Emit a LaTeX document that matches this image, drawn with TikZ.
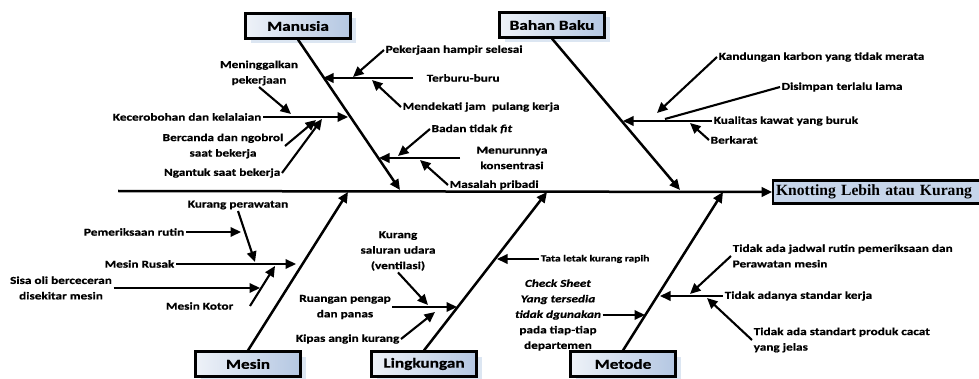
\documentclass[tikz,border=0pt]{standalone}
\usepackage{fontspec}
\setmainfont{Carlito}[FakeStretch=1.25, FakeBold=0.8]
\newfontfamily\knotfont{Liberation Serif}
\usepackage{tikz}
\usetikzlibrary{positioning,arrows.meta,shadows}
\definecolor{boxlight}{HTML}{EEF2F8}
\definecolor{boxdark}{HTML}{B4C7E2}
\definecolor{knotfill}{HTML}{C6D5EA}
\definecolor{shadowblue}{HTML}{DCE6F2}

\begin{document}
\begin{tikzpicture}[
x=1pt, y=-1pt,
>={Triangle[length=10.5pt,width=9.5pt]},
catbox/.style={rectangle, draw=black, line width=2.2pt, left color=boxlight, right color=boxdark,
    minimum width=105pt, minimum height=25pt, font=\fontsize{13.8}{16}\selectfont\bfseries,
    general shadow={fill=shadowblue, shadow xshift=5pt, shadow yshift=-5pt}},
knotbox/.style={rectangle, draw=black, line width=2.2pt, fill=knotfill, minimum height=23pt,
    text width=212pt, align=left, inner xsep=3pt, font=\knotfont\fontsize{15.6}{20}\selectfont\bfseries},
cause/.style={font=\fontsize{10.6}{15.5}\selectfont\bfseries, align=center, inner sep=1.5pt},
bone/.style={->, line width=2.5pt},
twig/.style={->, line width=2.1pt}
]
    \useasboundingbox (0,0) rectangle (979,379);

    %Nodes
    \node[knotbox, anchor=west] (knot) at (772,192) {Knotting Lebih atau Kurang};
    \node[catbox] (man) at (298,26) {Manusia};
    \node[catbox] (bhn) at (552,25) {Bahan Baku};
    \node[catbox] (msn) at (248,364) {Mesin};
    \node[catbox] (lkg) at (424,364) {Lingkungan};
    \node[catbox] (mtd) at (623,364) {Metode};

    \coordinate (tail) at (118,191);
    \coordinate (man0) at (400,190);
    \coordinate (bhn0) at (680,190);
    \coordinate (msn0) at (348,192);
    \coordinate (lkg0) at (547,192);
    \coordinate (mtd0) at (723,192);

    %Lines
    \draw[bone] (tail) -- (knot.west);
    \draw[bone] (man.south) -- (man0);
    \draw[bone] (bhn.south) -- (bhn0);
    \draw[bone] (msn.north) -- (msn0);
    \draw[bone] (lkg.north) -- (lkg0);
    \draw[bone] (mtd.north) -- (mtd0);

    % Manusia
    \node[cause, anchor=west] (trb) at (425,78) {Terburu-buru};
    \node[cause, anchor=west] (phs) at (384,50) {Pekerjaan hampir selesai};
    \node[cause, anchor=west] (mjp) at (401,107) {Mendekati jam \ pulang kerja};
    \node[cause, anchor=east] (kcr) at (263,117) {Kecerobohan dan kelalaian};
    \node[cause, anchor=south] (mgk) at (259,87) {Meninggalkan\\pekerjaan};
    \node[cause] (bcd) at (223,146) {Bercanda dan ngobrol\\saat bekerja};
    \node[cause, anchor=east] (ngt) at (282,173) {Ngantuk saat bekerja};
    \node[cause] (mnr) at (512,158) {Menurunnya\\konsentrasi};
    \node[cause, anchor=west] (bdn) at (430,129) {Badan tidak \textit{fit}};
    \node[cause, anchor=west] (msl) at (448,185) {Masalah pribadi};

    \coordinate (trb0) at (413,78);
    \coordinate (man1) at (323,78);
    \coordinate (man2) at (348,117);
    \coordinate (mnr0) at (460,158);
    \coordinate (man3) at (379,158);

    \draw[twig] (trb0) -- (man1);
    \draw[twig] (phs.west) -- (353,77);
    \draw[twig] (mjp.west) -- (372,80);
    \draw[twig] (kcr.east) -- (man2);
    \draw[twig] (mgk.south) -- (291,114);
    \draw[twig] (bcd.east) -- (316,120);
    \draw[twig] (ngt.east) -- (322,119);
    \draw[twig] (mnr0) -- (man3);
    \draw[twig] (bdn.west) -- (398,156);
    \draw[twig] (msl.west) -- (420,160);

    % Bahan Baku
    \node[cause, anchor=west] (kkb) at (712,121) {Kualitas kawat yang buruk};
    \node[cause, anchor=west] (kdg) at (717,57) {Kandungan karbon yang tidak merata};
    \node[cause, anchor=west] (dsp) at (780,87) {Disimpan terlalu lama};
    \node[cause, anchor=west] (bkr) at (709,140) {Berkarat};

    \coordinate (bhn1) at (623,121);
    \draw[twig] (kkb.west) -- (bhn1);
    \draw[twig] (kdg.west) -- (657,113);
    \draw[line width=2.1pt] (dsp.west) -- (665,119);
    \draw[twig] (bkr.west) -- (690,123);

    % Mesin
    \node[cause, anchor=east] (mrs) at (176,264) {Mesin Rusak};
    \node[cause] (kpr) at (238,205) {Kurang perawatan};
    \node[cause, anchor=east] (pmr) at (186,232) {Pemeriksaan rutin};
    \node[cause] (sso) at (61,288) {Sisa oli berceceran\\disekitar mesin};
    \node[cause, anchor=east] (mkt) at (235,306) {Mesin Kotor};

    \coordinate (msn1) at (296,264);
    \coordinate (mkt0) at (250,306);
    \draw[twig] (mrs.east) -- (msn1);
    \draw[twig] (kpr.south) -- (255,262);
    \draw[twig] (pmr.east) -- (241,232);
    \draw[twig] (sso.east) -- (260,288);
    \draw[twig] (mkt0) -- (275,266);

    % Lingkungan
    \node[cause] (rpp) at (345,307) {Ruangan pengap\\dan panas};
    \node[cause] (ksu) at (398,251) {Kurang\\saluran udara\\(ventilasi)};
    \node[cause, anchor=east] (kak) at (401,339) {Kipas angin kurang};
    \node[cause, anchor=west, font=\fontsize{9.2}{12}\selectfont\bfseries] (tlk) at (539,259) {Tata letak kurang rapih};

    \coordinate (lkg1) at (457,307);
    \draw[twig] (rpp.east) -- (lkg1);
    \draw[twig] (ksu.south) -- (428,305);
    \draw[twig] (kak.east) -- (435,312);
    \draw[twig] (tlk.west) -- (497,259);

    % Metode
    \node[cause, anchor=west] (tas) at (723,296) {Tidak adanya standar kerja};
    \node[cause, anchor=west, align=left] (tjr) at (731,256) {Tidak ada jadwal rutin pemeriksaan dan\\Perawatan mesin};
    \node[cause, anchor=west, align=left] (tsp) at (752,340) {Tidak ada standart produk cacat\\yang jelas};
    \node[cause] (cks) at (558,315) {\textit{Check Sheet}\\\textit{Yang tersedia}\\\textit{tidak dgunakan}\\pada tiap-tiap\\departemen};

    \coordinate (mtd1) at (660,296);
    \draw[twig] (tas.west) -- (mtd1);
    \draw[twig] (tjr.west) -- (690,294);
    \draw[twig] (tsp.west) -- (707,298);
    \draw[twig] (cks.east) -- (645,315);
\end{tikzpicture}
\end{document}
